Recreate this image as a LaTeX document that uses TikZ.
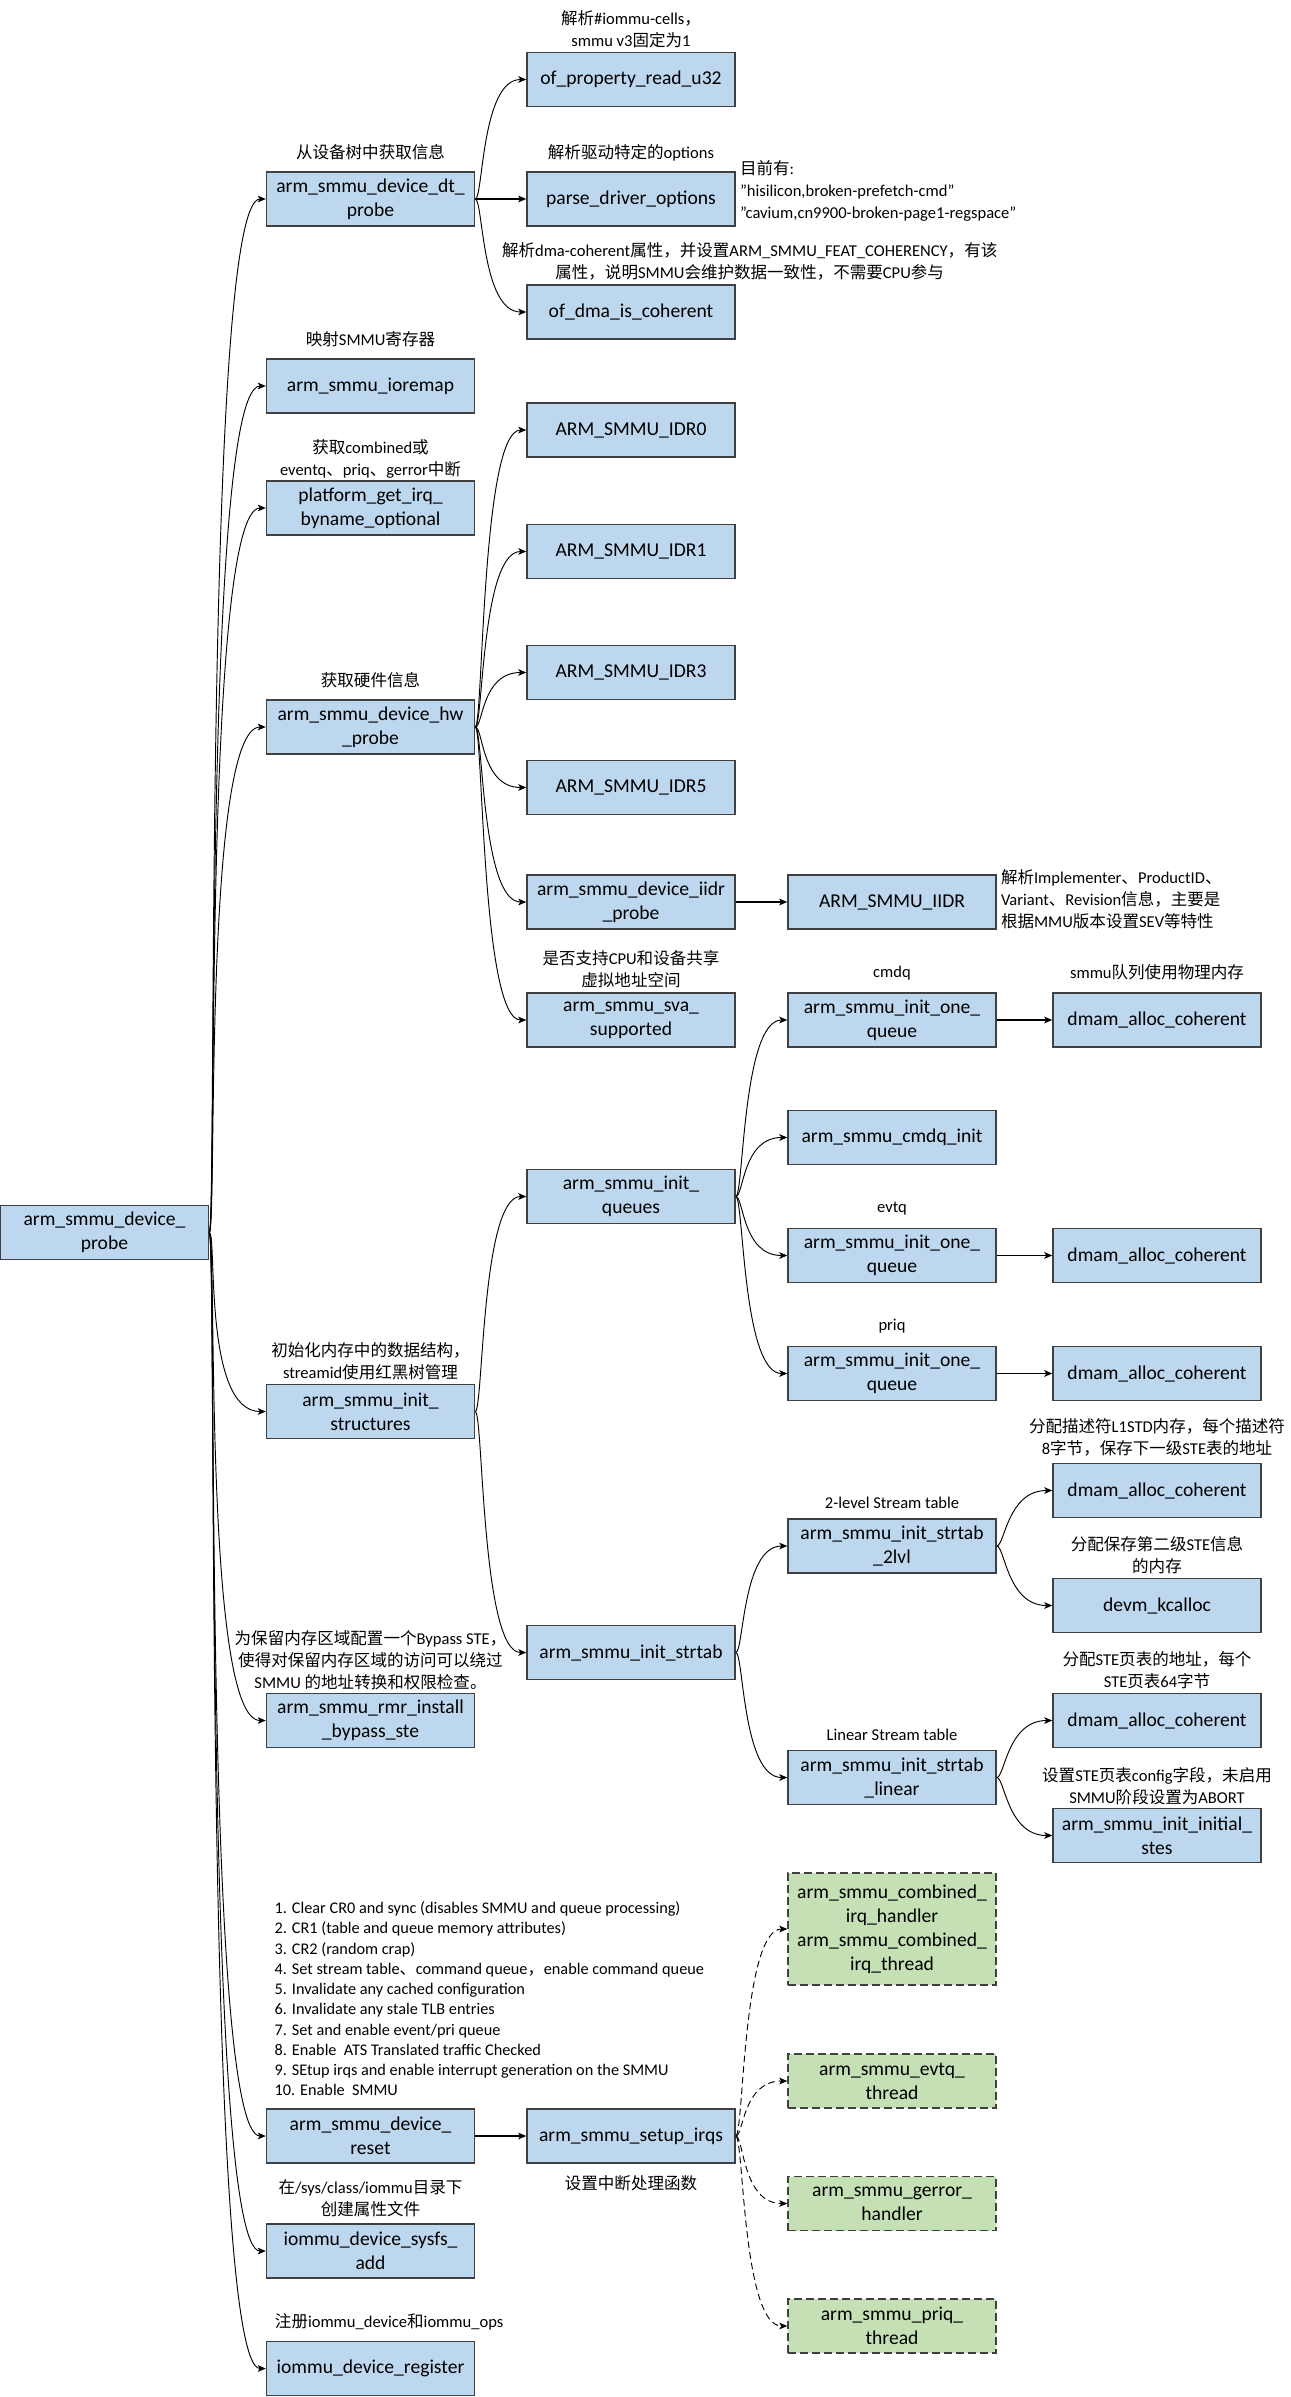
\documentclass[tikz,border=0pt]{standalone}
\usepackage{fontspec}
\setmainfont{Carlito}
\newfontfamily\cjk{Noto Sans CJK SC}
\newcommand{\zh}[1]{{\cjk #1}}
\usetikzlibrary{arrows.meta,positioning}

\definecolor{fnblue}{RGB}{189,215,238}
\definecolor{irqgreen}{RGB}{197,224,180}

\tikzset{
  fn/.style={draw=black!75, line width=1.1pt, fill=fnblue, minimum width=156pt,
    minimum height=40.5pt, inner sep=1pt, align=center,
    font=\fontsize{14.7}{18}\selectfont},
  irq/.style={fn, fill=irqgreen, dash pattern=on 6pt off 3pt},
  note/.style={font=\fontsize{12.4}{16.5}\selectfont, align=center, inner sep=1pt},
  call/.style={->, line width=0.7pt,
    to path={.. controls +(8,0) and +(-#1,0) .. (\tikztotarget)}},
  call/.default=45,
  direct/.style={->, line width=1.1pt},
  >={Stealth[length=6pt,width=5pt,inset=1.5pt]}
}

\begin{document}
\begin{tikzpicture}[x=0.75pt, y=-0.75pt]
\fill[white] (0,0) rectangle (1291,2397);
\useasboundingbox (0,0) rectangle (1291,2397);

\node[fn] (probe) at (104.5,1232.5) {arm\_smmu\_device\_\\probe};

\node[fn] (dt) at (370.5,199) {arm\_smmu\_device\_dt\_\\probe};
\node[fn] (ioremap) at (370.5,386) {arm\_smmu\_ioremap};
\node[fn] (getirq) at (370.5,508) {platform\_get\_irq\_\\byname\_optional};
\node[fn] (hw) at (370.5,727) {arm\_smmu\_device\_hw\\\_probe};
\node[fn] (structs) at (370.5,1411.5) {arm\_smmu\_init\_\\structures};
\node[fn] (rmr) at (370.5,1720.5) {arm\_smmu\_rmr\_install\\\_bypass\_ste};
\node[fn] (reset) at (370.5,2136) {arm\_smmu\_device\_\\reset};
\node[fn] (sysfs) at (370.5,2251) {iommu\_device\_sysfs\_\\add};
\node[fn] (reg) at (370.5,2368.5) {iommu\_device\_register};

\node[fn] (ofprop) at (631,79.5) {of\_property\_read\_u32};
\node[fn] (parseopt) at (631,199) {parse\_driver\_options};
\node[fn] (dmacoh) at (631,312) {of\_dma\_is\_coherent};
\node[fn] (idr0) at (631,430) {ARM\_SMMU\_IDR0};
\node[fn] (idr1) at (631,551.5) {ARM\_SMMU\_IDR1};
\node[fn] (idr3) at (631,672.5) {ARM\_SMMU\_IDR3};
\node[fn] (idr5) at (631,787.5) {ARM\_SMMU\_IDR5};
\node[fn] (iidrprobe) at (631,902) {arm\_smmu\_device\_iidr\\\_probe};
\node[fn] (sva) at (631,1020) {arm\_smmu\_sva\_\\supported};
\node[fn] (queues) at (631,1196.5) {arm\_smmu\_init\_\\queues};
\node[fn] (strtab) at (631,1652.5) {arm\_smmu\_init\_strtab};
\node[fn] (irqs) at (631,2136) {arm\_smmu\_setup\_irqs};

\node[fn] (iidr) at (892,902) {ARM\_SMMU\_IIDR};
\node[fn] (cmdq) at (892,1020) {arm\_smmu\_init\_one\_\\queue};
\node[fn] (cmdqinit) at (892,1137.5) {arm\_smmu\_cmdq\_init};
\node[fn] (evtq) at (892,1255.5) {arm\_smmu\_init\_one\_\\queue};
\node[fn] (priq) at (892,1373.5) {arm\_smmu\_init\_one\_\\queue};
\node[fn] (twolvl) at (892,1546) {arm\_smmu\_init\_strtab\\\_2lvl};
\node[fn] (linear) at (892,1777.5) {arm\_smmu\_init\_strtab\\\_linear};
\node[irq, minimum height=84pt] (combined) at (892,1929)
  {arm\_smmu\_combined\_\\irq\_handler\\arm\_smmu\_combined\_\\irq\_thread};
\node[irq] (evtqthr) at (892,2081) {arm\_smmu\_evtq\_\\thread};
\node[irq] (gerror) at (892,2203.5) {arm\_smmu\_gerror\_\\handler};
\node[irq] (priqthr) at (892,2326) {arm\_smmu\_priq\_\\thread};

\node[fn] (cmdqmem) at (1157,1020) {dmam\_alloc\_coherent};
\node[fn] (evtqmem) at (1157,1255.5) {dmam\_alloc\_coherent};
\node[fn] (priqmem) at (1157,1373.5) {dmam\_alloc\_coherent};
\node[fn] (l1mem) at (1157,1490.5) {dmam\_alloc\_coherent};
\node[fn] (l2mem) at (1157,1605.5) {devm\_kcalloc};
\node[fn] (linmem) at (1157,1720.5) {dmam\_alloc\_coherent};
\node[fn] (stes) at (1157,1835.5) {arm\_smmu\_init\_initial\_\\stes};

% notes
\node[note, above=2pt of ofprop] (ofpropnote) {\zh{解析}\#iommu-cells\zh{，}\\smmu v3\zh{固定为}1};
\node[note, above=7pt of dt] (dtnote) {\zh{从设备树中获取信息}};
\node[note, above=6pt of parseopt] (parseoptnote) {\zh{解析驱动特定的}options};
\node[note, align=left, anchor=west, right=2pt of parseopt, yshift=6pt] (optlist)
  {\zh{目前有}:\\"hisilicon,broken-prefetch-cmd"\\"cavium,cn9900-broken-page1-regspace"};
\node[note, above=2pt of dmacoh, xshift=89pt] (dmanote)
  {\zh{解析}dma-coherent\zh{属性，并设置}ARM\_SMMU\_FEAT\_COHERENCY\zh{，有该}\\\zh{属性，说明}SMMU\zh{会维护数据一致性，不需要}CPU\zh{参与}};
\node[note, above=7pt of ioremap] (ioremapnote) {\zh{映射}SMMU\zh{寄存器}};
\node[note, above=0pt of getirq] (getirqnote) {\zh{获取}combined\zh{或}\\eventq\zh{、}priq\zh{、}gerror\zh{中断}};
\node[note, above=7pt of hw] (hwnote) {\zh{获取硬件信息}};
\node[note, align=left, right=2pt of iidr, yshift=2pt] (iidrnote)
  {\zh{解析}Implementer\zh{、}ProductID\zh{、}\\Variant\zh{、}Revision\zh{信息，主要是}\\\zh{根据}MMU\zh{版本设置}SEV\zh{等特性}};
\node[note, above=2pt of sva] (svanote) {\zh{是否支持}CPU\zh{和设备共享}\\\zh{虚拟地址空间}};
\node[note, above=8pt of cmdq] (cmdqnote) {cmdq};
\node[note, above=8pt of cmdqmem] (cmdqmemnote) {smmu\zh{队列使用物理内存}};
\node[note, above=8pt of evtq] (evtqnote) {evtq};
\node[note, above=8pt of priq] (priqnote) {priq};
\node[note, above=2pt of structs] (structsnote) {\zh{初始化内存中的数据结构，}\\streamid\zh{使用红黑树管理}};
\node[note, above=4pt of l1mem] (l1note) {\zh{分配描述符}L1STD\zh{内存，每个描述符}\\8\zh{字节，保存下一级}STE\zh{表的地址}};
\node[note, above=6pt of twolvl] (twolvlnote) {2-level Stream table};
\node[note, above=2pt of l2mem] (l2note) {\zh{分配保存第二级}STE\zh{信息}\\\zh{的内存}};
\node[note, above=1pt of rmr] (rmrnote) {\zh{为保留内存区域配置一个}Bypass STE\zh{，}\\\zh{使得对保留内存区域的访问可以绕过}\\SMMU \zh{的地址转换和权限检查。}};
\node[note, above=2pt of linmem] (linmemnote) {\zh{分配}STE\zh{页表的地址，每个}\\STE\zh{页表}64\zh{字节}};
\node[note, above=6pt of linear] (linearnote) {Linear Stream table};
\node[note, above=1pt of stes] (stesnote) {\zh{设置}STE\zh{页表}config\zh{字段，未启用}\\SMMU\zh{阶段设置为}ABORT};
\node[note, align=left, font=\fontsize{12.2}{15.2}\selectfont, above right=8pt and 5.5pt of reset.north west] (resetnote)
  {1. Clear CR0 and sync (disables SMMU and queue processing)\\
   2. CR1 (table and queue memory attributes)\\
   3. CR2 (random crap)\\
   4. Set stream table\zh{、}command queue\zh{，}enable command queue\\
   5. Invalidate any cached configuration\\
   6. Invalidate any stale TLB entries\\
   7. Set and enable event/pri queue\\
   8. Enable~ ATS Translated traffic Checked\\
   9. SEtup irqs and enable interrupt generation on the SMMU\\
   10. Enable~ SMMU};
\node[note, below=8pt of irqs] (irqsnote) {\zh{设置中断处理函数}};
\node[note, above=4pt of sysfs] (sysfsnote) {\zh{在}/sys/class/iommu\zh{目录下}\\\zh{创建属性文件}};
\node[note, above=7pt of reg, xshift=14pt] (regnote) {\zh{注册}iommu\_device\zh{和}iommu\_ops};

\draw[call=63] (probe.east) to (dt.west);
\draw[call=63] (probe.east) to (ioremap.west);
\draw[call=63] (probe.east) to (getirq.west);
\draw[call=63] (probe.east) to (hw.west);
\draw[call=63] (probe.east) to (structs.west);
\draw[call=63] (probe.east) to (rmr.west);
\draw[call=63] (probe.east) to (reset.west);
\draw[call=63] (probe.east) to (sysfs.west);
\draw[call=63] (probe.east) to (reg.west);

\draw[call] (dt.east) to (ofprop.west);
\draw[direct] (dt) -- (parseopt);
\draw[call] (dt.east) to (dmacoh.west);

\draw[call] (hw.east) to (idr0.west);
\draw[call] (hw.east) to (idr1.west);
\draw[call] (hw.east) to (idr3.west);
\draw[call] (hw.east) to (idr5.west);
\draw[call] (hw.east) to (iidrprobe.west);
\draw[call] (hw.east) to (sva.west);
\draw[direct] (iidrprobe) -- (iidr);

\draw[call] (structs.east) to (queues.west);
\draw[call] (structs.east) to (strtab.west);
\draw[call] (queues.east) to (cmdq.west);
\draw[call] (queues.east) to (cmdqinit.west);
\draw[call] (queues.east) to (evtq.west);
\draw[call] (queues.east) to (priq.west);
\draw[direct] (cmdq) -- (cmdqmem);
\draw[direct] (evtq) -- (evtqmem);
\draw[direct] (priq) -- (priqmem);

\draw[call] (strtab.east) to (twolvl.west);
\draw[call] (strtab.east) to (linear.west);
\draw[call] (twolvl.east) to (l1mem.west);
\draw[call] (twolvl.east) to (l2mem.west);
\draw[call] (linear.east) to (linmem.west);
\draw[call] (linear.east) to (stes.west);

\draw[direct] (reset) -- (irqs);
\draw[call, dash pattern=on 5pt off 3pt] (irqs.east) to (combined.west);
\draw[call, dash pattern=on 5pt off 3pt] (irqs.east) to (evtqthr.west);
\draw[call, dash pattern=on 5pt off 3pt] (irqs.east) to (gerror.west);
\draw[call, dash pattern=on 5pt off 3pt] (irqs.east) to (priqthr.west);
\end{tikzpicture}
\end{document}
